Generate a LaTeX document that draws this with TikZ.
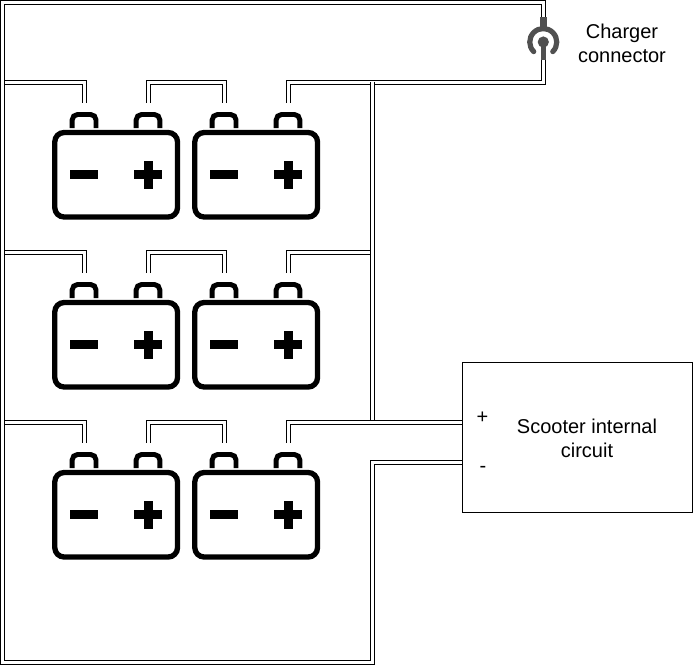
\documentclass[tikz,border=0pt]{standalone}
\usepackage{fontspec}
\setmainfont{Liberation Sans}
\definecolor{jackgray}{HTML}{505050}
\tikzset{
  wire/.style={draw=black,line width=0.75pt,double=white,double distance=2.25pt,miter limit=10},
  label/.style={font=\fontsize{15}{18}\selectfont,align=center,inner sep=0pt},
  batline/.style={draw=black,line width=4pt},
  termline/.style={draw=black,line width=3.7pt},
  jack/.style={draw=jackgray,line width=3.9pt},
  battery/.pic={
    \draw[batline,rounded corners=7pt] (2.8,20.5) rectangle (125.5,105);
    \draw[termline,rounded corners=4pt] (20.2,16) -- (20.2,2.5) -- (44,2.5) -- (44,16);
    \draw[termline,rounded corners=4pt] (84.2,16) -- (84.2,2.5) -- (107.8,2.5) -- (107.8,16);
    \fill (18,58.2) rectangle (46.3,67.2);
    \fill (82,58.2) rectangle (110,67.2);
    \fill (91.5,48.7) rectangle (100.5,77);
    \coordinate (-neg) at (32.5,-9.5);
    \coordinate (-pos) at (96.5,-9.5);
  }
}
\begin{document}
\begin{tikzpicture}[x=0.75pt,y=-0.75pt]
\useasboundingbox (0,0) rectangle (693,665);
\pic (b1) at (52,112) {battery};
\pic (b2) at (192,112) {battery};
\pic (b3) at (52,282) {battery};
\pic (b4) at (192,282) {battery};
\pic (b5) at (52,452) {battery};
\pic (b6) at (192,452) {battery};
% rails and trunk
\coordinate (jacktop) at (543.5,18);
\coordinate (jackbot) at (543.5,58);
\coordinate (jackc) at (543.3,42);
\coordinate (railA) at (2.5,82.5);
\coordinate (railB) at (2.5,252.5);
\coordinate (railC) at (2.5,422.5);
\coordinate (bridgeA) at (186,82.5);
\coordinate (bridgeB) at (186,252.5);
\coordinate (bridgeC) at (186,422.5);
\coordinate (trunkA) at (372.5,81.5);
\coordinate (trunkB) at (372.5,252.5);
\coordinate (trunkC) at (372.5,421);
\coordinate (plusend) at (462,422.5);
\coordinate (minusend) at (462,462.5);
\coordinate (minuscorner) at (372.5,462.5);
\coordinate (topleft) at (2.5,2.5);
\coordinate (topright) at (543.5,2.5);
\coordinate (botleft) at (2.5,662.5);
\coordinate (botright) at (372.5,662.5);
\coordinate (chargecorner) at (543.5,82.5);
% row 1
\draw[wire] (b1-neg) |- (railA);
\draw[wire] (b1-pos) |- (bridgeA) -| (b2-neg);
\draw[wire] (b2-pos) |- (chargecorner) -- (jackbot);
% row 2
\draw[wire] (b3-neg) |- (railB);
\draw[wire] (b3-pos) |- (bridgeB) -| (b4-neg);
\draw[wire] (b4-pos) |- (trunkB);
% row 3
\draw[wire] (b5-neg) |- (railC);
\draw[wire] (b5-pos) |- (bridgeC) -| (b6-neg);
% trunk and outer loop above the rails
\draw[wire] (trunkA) -- (trunkC);
\draw[wire] (b6-pos) |- (plusend);
\draw[wire] (jacktop) -- (topright) -- (topleft) -- (botleft) -- (botright) -- (minuscorner) -- (minusend);
% charger connector icon
\draw[jack,line cap=round] (533.7,51.6) arc[start angle=135,end angle=405,x radius=13.5,y radius=13.5];
\fill[jackgray] (540,17) rectangle (547,30);
\fill[jackgray] (jackc) circle[radius=5.6];
\fill[jackgray] (540.8,42) rectangle (546,59.5);
% scooter box and texts
\node[draw=black,line width=0.75pt,minimum width=172.5pt,minimum height=112.5pt,inner sep=0pt] (circuit) at (577.5,437.5) {};
\node[label] (circuittext) at (587,438.5) {Scooter internal\\circuit};
\node[label] (plus) at (482.5,418) {+};
\node[label] (minus) at (483,469) {-};
\node[label] (chargertext) at (622,43.5) {Charger\\connector};
\end{tikzpicture}
\end{document}
